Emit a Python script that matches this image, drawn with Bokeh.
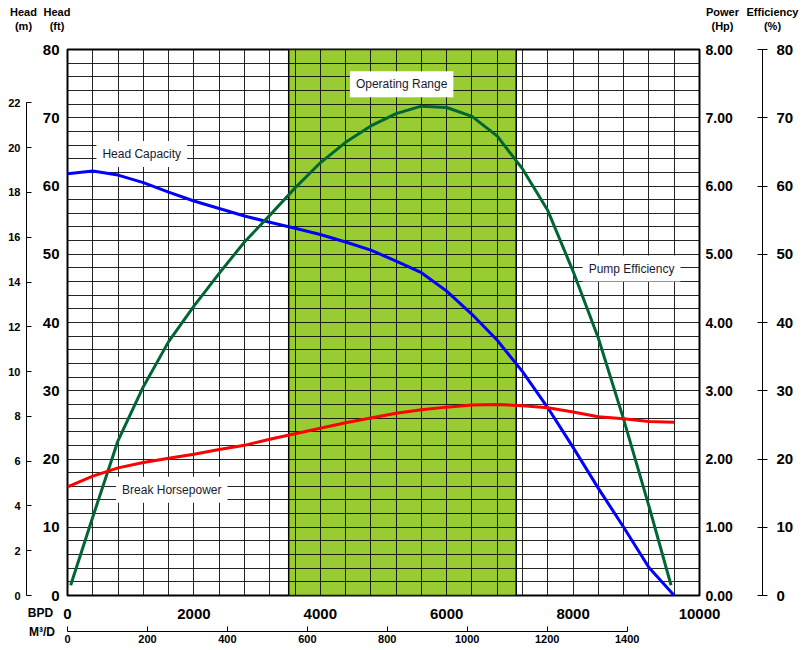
from bokeh.plotting import figure
from bokeh.layouts import column, row
from bokeh.models import (LinearAxis, Range1d, SingleIntervalTicker, FixedTicker,
                          Label, NumeralTickFormatter)
from bokeh.core.properties import value
from bokeh.embed import file_html
from bokeh.resources import INLINE

# ---------------- data ----------------
bpd_head = [0, 400, 800, 1200, 1600, 2000, 2400, 2800, 3200, 3600, 4000, 4400, 4800,
            5200, 5600, 6000, 6400, 6800, 7200, 7600, 8000, 8400, 8800, 9200, 9600]
head_ft = [61.8, 62.2, 61.6, 60.5, 59.1, 57.8, 56.7, 55.6, 54.7, 53.8, 52.9, 51.8, 50.6,
           49.0, 47.3, 44.6, 41.2, 37.4, 32.8, 27.5, 21.7, 15.7, 10.0, 4.1, 0.0]

bpd_eff = [50, 400, 800, 1200, 1600, 2000, 2400, 2800, 3200, 3600, 4000, 4400, 4800,
           5200, 5600, 6000, 6400, 6800, 7200, 7600, 8000, 8400, 8800, 9200, 9550]
eff_pct = [1.5, 11.5, 22.7, 30.6, 37.2, 42.4, 47.2, 51.8, 55.7, 59.7, 63.4, 66.4, 68.8,
           70.6, 71.7, 71.5, 70.2, 67.3, 62.5, 56.4, 47.5, 37.7, 25.8, 13.1, 1.5]

bpd_hp = [0, 400, 800, 1200, 1600, 2000, 2400, 2800, 3200, 3600, 4000, 4400, 4800,
          5200, 5600, 6000, 6400, 6800, 7200, 7600, 8000, 8400, 8800, 9200, 9600]
power_hp = [1.59, 1.75, 1.87, 1.95, 2.01, 2.07, 2.14, 2.20, 2.29, 2.37, 2.45, 2.53, 2.60,
            2.67, 2.72, 2.76, 2.79, 2.80, 2.78, 2.75, 2.69, 2.62, 2.59, 2.55, 2.54]

operating_range = [3500, 7100]

bpd_ticks = [0, 2000, 4000, 6000, 8000, 10000]
m3d_ticks = [0, 200, 400, 600, 800, 1000, 1200, 1400]
ft_ticks = [0, 10, 20, 30, 40, 50, 60, 70, 80]
m_ticks = [0, 2, 4, 6, 8, 10, 12, 14, 16, 18, 20, 22]
hp_ticks = [0, 1, 2, 3, 4, 5, 6, 7, 8]
eff_ticks = [0, 10, 20, 30, 40, 50, 60, 70, 80]

header_top = ["Head", "Head", "Power", "Efficiency"]
header_bottom = ["(m)", "(ft)", "(Hp)", "(%)"]
unit_names = ["BPD", "M³/D"]

BPD_MAX = 10000
FT_MAX = 80
M3D_MAX = 1581          # BPD_MAX on the chart's M3/D scale
M_MAX = FT_MAX / 3.2808
HP_MAX = 8

FONT = "Liberation Sans"
W = 804
FRAME_W = 632
FRAME_H = 546
LEFT = 67
RIGHT = W - LEFT - FRAME_W


def style_labels(ax, size):
    ax.major_label_text_font = FONT
    ax.major_label_text_font_size = size
    ax.major_label_text_font_style = "bold"
    ax.major_label_text_color = "black"
    ax.minor_tick_line_color = None


def blank_fig(w, h):
    f = figure(width=w, height=h, output_backend="svg", toolbar_location=None,
               x_range=Range1d(0, w), y_range=Range1d(h, 0),
               x_axis_location=None, y_axis_location=None, frame_align=False,
               min_border_left=0, min_border_right=0, min_border_top=0, min_border_bottom=0)
    f.grid.visible = False
    f.outline_line_color = None
    f.background_fill_color = "white"
    f.border_fill_color = "white"
    return f


# ---------------- header (axis titles) ----------------
HEAD_H = 40
head = blank_fig(W, HEAD_H)
head_x = [23, 56.5, 722, 772]
head.text(x=head_x, y=[11] * 4, text=header_top, text_align="center", text_baseline="middle",
          text_font=value(FONT), text_font_size="11px", text_font_style="bold", text_color="black")
head.text(x=head_x, y=[25] * 4, text=header_bottom, text_align="center", text_baseline="middle",
          text_font=value(FONT), text_font_size="11px", text_font_style="bold", text_color="black")

# ---------------- main chart ----------------
TOP_B = 9
BOT_B = 9
p = figure(width=W, height=FRAME_H + TOP_B + BOT_B, output_backend="svg", toolbar_location=None,
           x_range=Range1d(0, BPD_MAX), y_range=Range1d(0, FT_MAX),
           x_axis_location=None, y_axis_location=None, frame_align=False,
           min_border_left=LEFT, min_border_right=RIGHT,
           min_border_top=TOP_B, min_border_bottom=BOT_B)
p.extra_y_ranges = {"m": Range1d(0, M_MAX), "hp": Range1d(0, HP_MAX)}

p.background_fill_color = "white"
p.border_fill_color = "white"
p.outline_line_color = "black"
p.outline_line_width = 2

p.xgrid.ticker = SingleIntervalTicker(interval=400, num_minor_ticks=0)
p.ygrid.ticker = SingleIntervalTicker(interval=2, num_minor_ticks=0)
p.grid.grid_line_color = "black"
p.grid.grid_line_alpha = 0.85
p.grid.grid_line_width = 1

ax_ft = LinearAxis(ticker=FixedTicker(ticks=ft_ticks), axis_line_color=None,
                   major_tick_line_color=None, major_tick_out=0, major_tick_in=0,
                   major_label_standoff=8,
                   axis_label=" ", axis_label_text_font_size="6px", axis_label_standoff=4)
style_labels(ax_ft, "15px")
p.add_layout(ax_ft, "left")

ax_m = LinearAxis(y_range_name="m", ticker=FixedTicker(ticks=m_ticks), bounds=(0, 22),
                  axis_line_color="black", axis_line_width=1,
                  major_tick_in=5, major_tick_out=0, major_tick_line_color="black",
                  major_label_standoff=6)
style_labels(ax_m, "11px")
p.add_layout(ax_m, "left")

ax_hp = LinearAxis(y_range_name="hp", ticker=FixedTicker(ticks=hp_ticks),
                   formatter=NumeralTickFormatter(format="0.00"),
                   axis_line_color=None, major_tick_line_color=None,
                   major_tick_out=0, major_tick_in=0, major_label_standoff=6,
                   axis_label=" ", axis_label_text_font_size="8px", axis_label_standoff=15)
style_labels(ax_hp, "14px")
p.add_layout(ax_hp, "right")

ax_eff = LinearAxis(ticker=FixedTicker(ticks=eff_ticks), axis_line_color="black",
                    major_tick_in=5, major_tick_out=5, major_tick_line_color="black",
                    major_label_standoff=9)
style_labels(ax_eff, "15px")
p.add_layout(ax_eff, "right")

shade = p.quad(left=[operating_range[0]], right=[operating_range[1]], bottom=[0], top=[FT_MAX],
               fill_color="#99CC33", line_color="black", line_width=1.5)
shade.level = "image"

p.line(bpd_head, head_ft, line_color="#0000FF", line_width=3, line_join="round")
p.line(bpd_eff, eff_pct, line_color="#006633", line_width=3, line_join="round")
p.line(bpd_hp, power_hp, line_color="#FF0000", line_width=3, line_join="round",
       y_range_name="hp")

for txt, lx, ly in [("Operating Range", 5287, 74.9), ("Head Capacity", 1175, 64.7),
                    ("Pump Efficiency", 8925, 47.9), ("Break Horsepower", 1650, 15.5)]:
    p.add_layout(Label(x=lx, y=ly, text=txt, text_align="center", text_baseline="middle",
                       text_font=FONT, text_font_size="12px", text_color="#1a1a2e",
                       background_fill_color="white", padding=6))

# ---------------- footer: unit names + x axes ----------------
FOOT_H = 650 - HEAD_H - (FRAME_H + TOP_B + BOT_B)
WORD_W = 56
words = blank_fig(WORD_W, FOOT_H)
words.text(x=[40, 41.5], y=[8, 27], text=unit_names, text_align="center",
           text_baseline="middle", text_font=value(FONT), text_font_size="12px",
           text_font_style="bold", text_color="black")

AX_W = W - WORD_W
axf = figure(width=AX_W, height=FOOT_H, output_backend="svg", toolbar_location=None,
             x_range=p.x_range, y_range=Range1d(0, 1),
             x_axis_location=None, y_axis_location=None, frame_align=False,
             min_border_left=LEFT - WORD_W, min_border_right=RIGHT,
             min_border_top=0, min_border_bottom=FOOT_H - 1)
axf.extra_x_ranges = {"m3": Range1d(0, M3D_MAX)}
axf.grid.visible = False
axf.outline_line_color = None
axf.background_fill_color = "white"
axf.border_fill_color = "white"

ax_bpd = LinearAxis(ticker=FixedTicker(ticks=bpd_ticks), axis_line_color=None,
                    major_tick_line_color=None, major_tick_out=0, major_tick_in=0,
                    major_label_standoff=3,
                    axis_label=" ", axis_label_text_font_size="4px", axis_label_standoff=2)
style_labels(ax_bpd, "15px")
axf.add_layout(ax_bpd, "below")

ax_m3 = LinearAxis(x_range_name="m3", ticker=FixedTicker(ticks=m3d_ticks), bounds=(0, 1400),
                   axis_line_color="black", major_tick_in=5, major_tick_out=0,
                   major_tick_line_color="black", major_label_standoff=3)
style_labels(ax_m3, "11px")
axf.add_layout(ax_m3, "below")

layout = column(head, p, row(words, axf))

open("out.html", "w").write(file_html(layout, INLINE))
